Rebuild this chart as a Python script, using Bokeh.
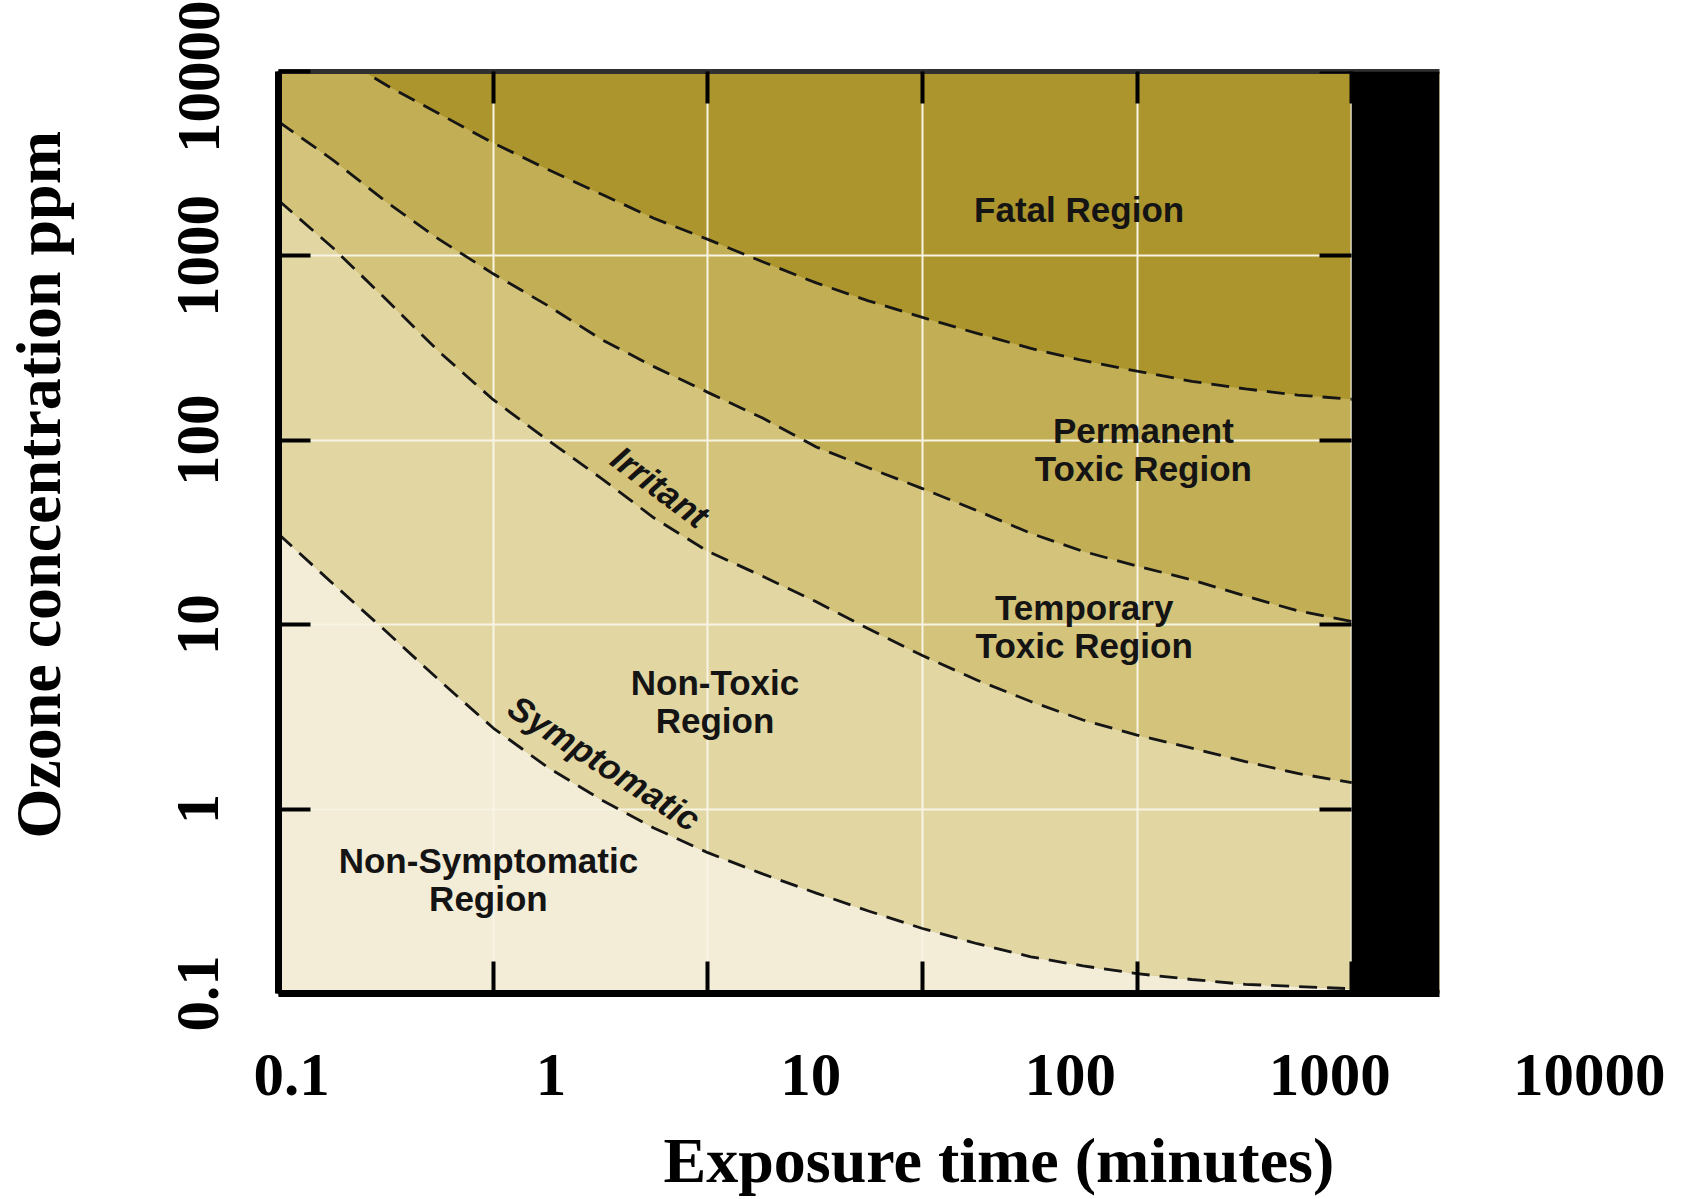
import numpy as np
from bokeh.plotting import figure
from bokeh.models import Range1d, LogAxis, BoxAnnotation, Title, FixedTicker
from bokeh.layouts import column
from bokeh.embed import file_html
from bokeh.resources import INLINE
from bokeh.core.properties import value

# ---------------- data ----------------
time_min = [0.1, 0.18, 0.32, 0.56, 1, 1.8, 3.2, 5.6, 10, 18, 32, 56, 100,
            180, 320, 560, 1000, 1800, 3200, 5600, 10000]
fatal_ppm = [19000, 12600, 8400, 5900, 4100, 2940, 2160, 1600, 1230, 930, 714,
             571, 464, 380, 315, 271, 237, 209, 190, 176, 167]
permanent_ppm = [5350, 3300, 1950, 1230, 800, 537, 352, 251, 182, 132, 92,
                 71, 54.7, 41.5, 31.3, 25, 20.8, 17.5, 14.3, 11.9, 10.4]
irritant_ppm = [2000, 1100, 575, 302, 166, 100, 62, 38, 25, 18.3, 13.3,
                9.5, 6.8, 5.0, 3.83, 3.04, 2.52, 2.14, 1.81, 1.56, 1.39]
symptomatic_ppm = [31, 16.6, 9.1, 5.0, 2.75, 1.68, 1.12, 0.79, 0.58, 0.445, 0.35,
                   0.28, 0.225, 0.186, 0.158, 0.141, 0.128, 0.119, 0.112, 0.109, 0.106]

x_tick_values = [0.1, 1, 10, 100, 1000, 10000]
x_tick_labels = ["0.1", "1", "10", "100", "1000", "10000"]
y_tick_values = [0.1, 1, 10, 100, 1000, 10000]
y_tick_labels = ["0.1", "1", "10", "100", "1000", "10000"]

region_names = ["Fatal Region", "Permanent\nToxic Region", "Temporary\nToxic Region",
                "Non-Toxic\nRegion", "Non-Symptomatic\nRegion"]
region_x = [537, 1070, 567, 10.8, 0.95]
region_y = [1780, 89, 9.8, 3.85, 0.416]

curve_names = ["Irritant", "Symptomatic"]
curve_x = [6.0, 3.3]
curve_y = [56, 1.78]
curve_angle = [-0.64, -0.57]

# ---------------- styles ----------------
C_FATAL = "#ab952c"
C_PERM = "#c2ae55"
C_TEMP = "#d3c37b"
C_NONTOX = "#e2d7a3"
C_NONSYM = "#f3edd8"
GRID = "#f8f4e4"
SERIF = "Liberation Serif"
SANS = "Liberation Sans"

X_RANGE = Range1d(0.0999, 25650)
Y_RANGE = Range1d(0.0999, 10010)
Y_FLOOR = [0.05] * len(time_min)

p = figure(width=1458, height=1040, x_axis_type="log", y_axis_type="log",
           x_range=X_RANGE, y_range=Y_RANGE,
           output_backend="svg", toolbar_location=None,
           min_border_left=276, min_border_right=18, min_border_top=71, min_border_bottom=47,
           background_fill_color=C_FATAL, outline_line_color=None)

# bands
p.varea(x=time_min, y1=permanent_ppm, y2=fatal_ppm, fill_color=C_PERM, level="image")
p.varea(x=time_min, y1=irritant_ppm, y2=permanent_ppm, fill_color=C_TEMP, level="image")
p.varea(x=time_min, y1=symptomatic_ppm, y2=irritant_ppm, fill_color=C_NONTOX, level="image")
p.varea(x=time_min, y1=Y_FLOOR, y2=symptomatic_ppm, fill_color=C_NONSYM, level="image")

# dashed boundaries
for curve in (fatal_ppm, permanent_ppm, irritant_ppm, symptomatic_ppm):
    p.line(time_min, curve, line_color="#151515", line_width=2.8, line_dash="18 10")

# region labels
p.text(x=region_x, y=region_y, text=region_names, text_font=value(SANS),
       text_font_style="bold", text_font_size="35px", text_color="#141414",
       text_align="center", text_baseline="middle", text_line_height=0.98)
p.text(x=curve_x, y=curve_y, text=curve_names, angle=curve_angle, text_font=value(SANS),
       text_font_style="bold italic", text_font_size="35px", text_color="#141414",
       text_align="center", text_baseline="middle")

# grid
p.xgrid.ticker = FixedTicker(ticks=x_tick_values)
p.ygrid.ticker = FixedTicker(ticks=y_tick_values)
p.grid.grid_line_color = GRID
p.grid.grid_line_width = 2

def style_ticks(ax):
    ax.major_tick_in = 32
    ax.major_tick_out = 0
    ax.major_tick_line_width = 4
    ax.major_tick_line_color = "black"
    ax.minor_tick_line_color = None

def hide_labels(ax):
    ax.major_label_text_font_size = "2px"
    ax.major_label_text_alpha = 0
    ax.major_label_standoff = 0

# left axis
ya = p.yaxis[0]
ya.ticker = FixedTicker(ticks=y_tick_values, minor_ticks=[])
ya.major_label_overrides = dict(zip(y_tick_values, y_tick_labels))
ya.major_label_orientation = "vertical"
ya.major_label_text_font = SERIF
ya.major_label_text_font_style = "bold"
ya.major_label_text_font_size = "61px"
ya.major_label_text_color = "black"
ya.major_label_standoff = 60
ya.axis_line_width = 7
ya.axis_line_color = "black"
# blank spacer between tick labels and the axis title
ya.axis_label = " "
ya.axis_label_text_font_size = "10px"
ya.axis_label_standoff = 88
style_ticks(ya)

# bottom axis (ticks only)
xa = p.xaxis[0]
xa.ticker = FixedTicker(ticks=x_tick_values, minor_ticks=[])
hide_labels(xa)
xa.axis_line_width = 7
xa.axis_line_color = "black"
style_ticks(xa)

# top axis (ticks only)
top = LogAxis(ticker=FixedTicker(ticks=x_tick_values, minor_ticks=[]),
              axis_line_width=5, axis_line_color="#303030")
hide_labels(top)
style_ticks(top)
p.add_layout(top, "above")

# right ticks at the end of the data
right = LogAxis(ticker=FixedTicker(ticks=y_tick_values, minor_ticks=[]),
                fixed_location=time_min[-1], axis_line_color=None)
hide_labels(right)
style_ticks(right)
p.add_layout(right, "right")

# black band beyond the data
p.add_layout(BoxAnnotation(left=time_min[-1], fill_color="black", fill_alpha=1,
                           line_color=None))

# y title
p.add_layout(Title(text="Ozone concentration ppm", align="left", offset=155,
                   text_font=SERIF, text_font_style="bold", text_font_size="64px",
                   text_color="black", standoff=0), "left")

# ---------------- lower label strip ----------------
b = figure(width=1687, height=157, x_axis_type="log", x_axis_location="above",
           x_range=Range1d(10 ** -1.0504, 10 ** 4.3055), y_range=Range1d(0, 1),
           output_backend="svg", toolbar_location=None,
           min_border_left=276, min_border_right=19, min_border_top=60, min_border_bottom=0,
           outline_line_color=None, y_axis_location=None)
b.grid.visible = False
ba = b.xaxis[0]
ba.ticker = FixedTicker(ticks=x_tick_values, minor_ticks=[])
ba.major_label_overrides = dict(zip(x_tick_values, x_tick_labels))
ba.major_label_text_font = SERIF
ba.major_label_text_font_style = "bold"
ba.major_label_text_font_size = "61px"
ba.major_label_text_color = "black"
ba.major_label_standoff = 0
ba.axis_line_color = None
ba.major_tick_line_color = None
ba.minor_tick_line_color = None
b.add_layout(Title(text="Exposure time (minutes)", align="left", offset=385,
                   vertical_align="top",
                   text_font=SERIF, text_font_style="bold", text_font_size="64px",
                   text_color="black", standoff=0), "below")

layout = column(p, b)
open("out.html", "w").write(file_html(layout, INLINE))
